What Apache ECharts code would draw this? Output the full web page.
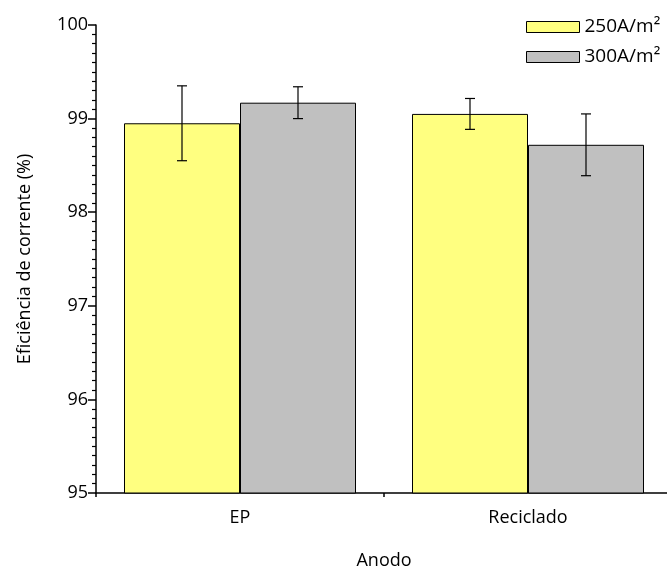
<!DOCTYPE html>
<html>
<head>
<meta charset="utf-8">
<script src="https://cdn.jsdelivr.net/npm/echarts@6/dist/echarts.min.js"></script>
<style>html,body{margin:0;padding:0;background:#fff}#c{width:667px;height:567px}</style>
</head>
<body>
<div id="c"></div>
<script>
var categories = ['EP', 'Reciclado'];
var seriesNames = ['250A/m²', '300A/m²'];
var values250 = [98.95, 99.05];
var errors250 = [0.40, 0.165];
var values300 = [99.17, 98.72];
var errors300 = [0.17, 0.33];
var yTicks = [95, 96, 97, 98, 99, 100];

var FONT = 'Open Sans';
var FS = 18;
var BAR_W = 116;
var chart = echarts.init(document.getElementById('c'));

function errData(vals, errs) {
  return vals.map(function (v, i) { return [i, v - errs[i], v + errs[i]]; });
}
function errSeries(name, vals, errs, side) {
  return {
    type: 'custom',
    name: name + ' err',
    z: 5,
    data: errData(vals, errs),
    renderItem: function (params, api) {
      var lo = api.coord([api.value(0), api.value(1)]);
      var hi = api.coord([api.value(0), api.value(2)]);
      var x = lo[0] + side * BAR_W / 2;
      var cap = 5;
      var st = { stroke: '#000', lineWidth: 1.2 };
      return {
        type: 'group',
        children: [
          { type: 'line', shape: { x1: x, y1: lo[1], x2: x, y2: hi[1] }, style: st },
          { type: 'line', shape: { x1: x - cap, y1: lo[1], x2: x + cap, y2: lo[1] }, style: st },
          { type: 'line', shape: { x1: x - cap, y1: hi[1], x2: x + cap, y2: hi[1] }, style: st }
        ]
      };
    }
  };
}

chart.setOption({
  animation: false,
  textStyle: { fontFamily: FONT },
  grid: { left: 96, top: 25, width: 576, height: 468, outerBoundsMode: 'none', containLabel: false },
  legend: {
    orient: 'vertical',
    left: 526,
    top: 16,
    padding: 0,
    icon: 'rect',
    itemWidth: 53,
    itemHeight: 11,
    itemGap: 8,
    data: seriesNames,
    itemStyle: { borderColor: '#000', borderWidth: 1 },
    textStyle: { fontFamily: FONT, fontSize: 19, color: '#000', lineHeight: 22 }
  },
  xAxis: [{
    type: 'category',
    data: categories,
    name: 'Anodo',
    nameLocation: 'middle',
    nameGap: 59,
    nameTextStyle: { fontFamily: FONT, fontSize: FS, color: '#000' },
    axisLine: { lineStyle: { color: '#000', width: 1.5 } },
    axisTick: { alignWithLabel: true, length: 8, lineStyle: { color: '#000', width: 1.5 } },
    axisLabel: { fontFamily: FONT, fontSize: FS, color: '#000', margin: 16 },
    splitLine: { show: false }
  }, {
    type: 'category',
    data: categories,
    position: 'bottom',
    axisLine: { show: false },
    axisTick: { show: true, length: 4, lineStyle: { color: '#000', width: 1.5 } },
    axisLabel: { show: false },
    splitLine: { show: false }
  }],
  yAxis: {
    type: 'value',
    min: yTicks[0],
    max: yTicks[yTicks.length - 1],
    interval: 1,
    name: 'Eficiência de corrente (%)',
    nameLocation: 'middle',
    nameGap: 62,
    nameTextStyle: { fontFamily: FONT, fontSize: FS, color: '#000' },
    axisLine: { show: true, lineStyle: { color: '#000', width: 1.5 } },
    axisTick: { show: true, length: 8, lineStyle: { color: '#000', width: 1.5 } },
    minorTick: { show: true, splitNumber: 10, length: 4, lineStyle: { color: '#000', width: 1.2 } },
    axisLabel: { fontFamily: FONT, fontSize: FS, color: '#000', margin: 8 },
    splitLine: { show: false }
  },
  series: [{
    type: 'bar',
    name: seriesNames[0],
    data: values250,
    barWidth: BAR_W,
    barGap: '0%',
    itemStyle: { color: '#FFFF80', borderColor: '#000', borderWidth: 1 }
  }, {
    type: 'bar',
    name: seriesNames[1],
    data: values300,
    barWidth: BAR_W,
    barGap: '0%',
    itemStyle: { color: '#C0C0C0', borderColor: '#000', borderWidth: 1 }
  },
  errSeries(seriesNames[0], values250, errors250, -1),
  errSeries(seriesNames[1], values300, errors300, 1)
  ]
});
</script>
</body>
</html>
